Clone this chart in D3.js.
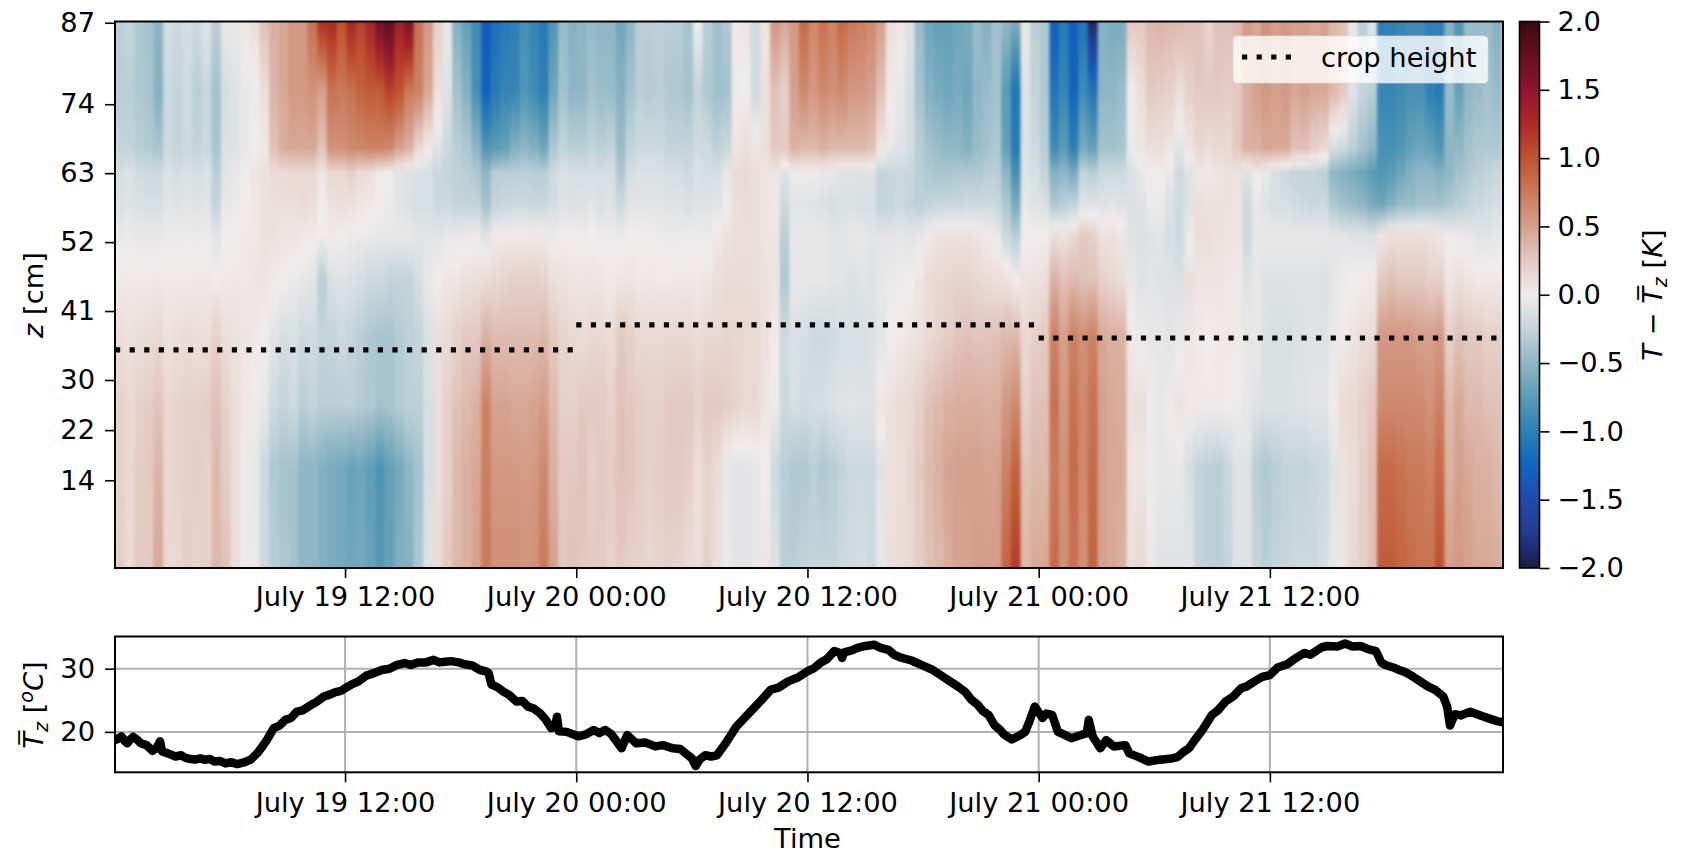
<!DOCTYPE html>
<html><head><meta charset="utf-8">
<script src="https://cdn.jsdelivr.net/npm/d3@7"></script>
<style>
html,body{margin:0;padding:0;background:#fff}
svg{display:block}
text{font-family:"DejaVu Sans",sans-serif;fill:#000}
</style></head><body><svg id="c" width="1688" height="854"></svg>
<script>
// --- heatmap data: one row every 0.5 h; entries follow zLevels, values in K
const zLevels=[87,76,67,63,58,53,46,37,26,16,0];
const columnHours=0.5;
const heatDay1=[
[-.3,-.3,-.25,-.15,-.12,-.05,.03,.1,.2,.2,.22],
[-.25,-.3,-.25,-.12,-.1,-.03,.02,.08,.15,.15,.12],
[-.35,-.35,-.3,-.18,-.12,-.05,.02,.1,.2,.22,.25],
[-.4,-.38,-.33,-.2,-.15,-.05,.02,.12,.22,.25,.25],
[-.52,-.55,-.38,-.2,-.15,-.05,.03,.15,.28,.38,.45],
[-.15,-.2,-.2,-.12,-.08,-.03,.02,.08,.15,.15,.15],
[-.2,-.25,-.25,-.15,-.1,-.03,.02,.1,.18,.18,.15],
[-.15,-.2,-.2,-.12,-.08,-.02,.02,.12,.2,.2,.22],
[-.2,-.3,-.25,-.15,-.1,-.03,.03,.1,.2,.22,.18],
[-.1,-.22,-.2,-.12,-.08,-.02,.03,.1,.22,.2,.2],
[-.3,-.4,-.38,-.3,-.25,-.08,0,.2,.3,.35,.35],
[-.05,-.15,-.12,-.08,-.05,0,.02,.1,.2,.22,.3],
[-.05,-.1,-.1,-.05,-.03,0,.03,.08,.1,.1,.1],
[.05,-.05,-.05,0,0,.02,.03,.05,.03,.02,.02],
[.1,-.02,0,.05,.03,.03,.05,.03,-.02,-.05,-.03],
[.3,.1,.03,.08,.08,.08,.05,0,-.05,-.2,-.2],
[.4,.38,.3,.12,.1,.08,.02,-.08,-.2,-.35,-.3],
[.45,.45,.42,.13,.1,.05,0,-.15,-.25,-.4,-.35],
[.55,.55,.45,.15,.1,.05,-.03,-.12,-.2,-.4,-.4],
[.55,.55,.45,.15,.12,.03,-.05,-.2,-.3,-.5,-.5],
[.8,.6,.45,.15,.1,.02,-.08,-.18,-.25,-.5,-.5],
[1.2,.5,.3,.05,0,0,-.3,-.25,-.3,-.55,-.55],
[1.25,.8,.6,.15,.08,.02,-.12,-.25,-.3,-.6,-.6],
[1,.75,.6,.15,.1,0,-.1,-.2,-.3,-.62,-.62],
[1.3,.8,.65,.2,.08,-.02,-.12,-.25,-.28,-.68,-.65],
[1.1,.9,.65,.12,.05,-.03,-.15,-.3,-.32,-.65,-.62],
[1.3,.95,.7,.1,.03,-.03,-.2,-.35,-.35,-.72,-.68],
[1.65,.95,.7,.02,0,-.05,-.2,-.38,-.4,-.82,-.78],
[1.8,1.1,.65,0,-.03,-.05,-.25,-.38,-.38,-.7,-.7],
[1.35,1,.5,-.08,-.08,-.05,-.25,-.32,-.32,-.62,-.58],
[1.6,.75,.4,-.1,-.12,-.05,-.25,-.28,-.28,-.5,-.55],
[.8,.7,.15,-.12,-.15,-.08,-.15,-.25,-.28,-.4,-.35],
[.55,.45,.02,-.15,-.15,-.08,-.05,-.12,-.15,-.15,-.1],
[.2,.1,-.1,-.22,-.2,-.08,0,.1,.1,.1,.12],
[-.05,-.1,-.2,-.25,-.2,-.05,.05,.12,.2,.2,.25],
[-.55,-.4,-.3,-.28,-.25,-.05,.05,.2,.3,.35,.35],
[-.7,-.55,-.35,-.3,-.25,-.03,.08,.25,.35,.4,.4],
[-.9,-.85,-.5,-.35,-.25,-.02,.1,.25,.4,.45,.5],
[-1.35,-1.25,-.8,-.5,-.4,-.1,.12,.4,.7,.72,.75],
[-1.15,-1.05,-.75,-.3,-.25,.02,.15,.33,.48,.55,.6],
[-1.05,-.95,-.7,-.3,-.22,.02,.18,.33,.48,.55,.6],
[-1,-.95,-.55,-.3,-.2,.02,.2,.33,.45,.55,.6],
[-.85,-.8,-.5,-.28,-.2,.02,.2,.33,.45,.53,.58],
[-.95,-.9,-.55,-.3,-.22,.03,.2,.33,.48,.55,.6],
[-1.05,-1,-.65,-.3,-.22,.03,.18,.36,.52,.65,.75],
[-.8,-.65,-.35,-.2,-.15,-.03,.1,.25,.35,.4,.5],
[-.45,-.4,-.25,-.12,-.1,0,.08,.18,.2,.25,.25],
[-.55,-.5,-.3,-.15,-.12,0,.05,.15,.2,.25,.3]];
const heatDay2=[
[-.5,-.5,-.3,-.15,-.1,-.02,.05,.12,.25,.3,.25],
[-.45,-.4,-.25,-.15,-.08,0,.05,.15,.25,.2,.25],
[-.5,-.45,-.3,-.15,-.12,-.02,.04,.15,.25,.25,.25],
[-.5,-.45,-.25,-.15,-.1,-.02,.02,.12,.2,.22,.2],
[-.65,-.55,-.45,-.35,-.2,-.03,.05,.25,.3,.3,.25],
[-.5,-.4,-.25,-.15,-.08,0,.05,.2,.25,.28,.2],
[-.3,-.3,-.2,-.12,-.08,0,.02,.15,.22,.22,.2],
[-.3,-.32,-.2,-.12,-.08,0,.03,.15,.2,.2,.15],
[-.28,-.3,-.2,-.12,-.08,-.02,.02,.15,.2,.22,.18],
[-.3,-.35,-.25,-.15,-.1,-.03,.02,.15,.25,.25,.2],
[-.3,-.35,-.25,-.15,-.1,-.03,.03,.15,.25,.25,.18],
[-.38,-.4,-.25,-.2,-.12,-.02,.03,.15,.25,.22,.12],
[-.02,-.25,-.18,-.12,-.1,-.02,.02,.12,.2,.1,.1],
[-.3,-.35,-.2,-.15,-.1,-.03,.05,.15,.25,.2,.2],
[-.42,-.42,-.28,-.15,-.08,.03,.1,.15,.25,.12,.1],
[-.35,-.4,-.22,-.05,-.02,.08,.12,.17,.22,-.05,-.03],
[.03,.02,.05,.12,.1,.1,.12,.16,.18,-.08,-.08],
[.05,0,.1,.13,.12,.1,.12,.15,.15,-.08,-.08],
[-.2,-.2,.05,.1,.1,.1,.1,.15,.15,-.05,-.05],
[.05,.08,.1,.05,.05,.05,.08,.08,.05,0,.05],
[.55,.3,.25,.05,.03,.05,.05,.02,-.02,-.2,-.1],
[.45,.2,.25,-.1,-.2,-.3,-.35,-.2,-.2,-.3,-.3],
[.55,.5,.4,-.02,-.08,-.05,-.05,-.12,-.15,-.35,-.3],
[.85,.65,.35,-.02,-.08,-.05,-.05,-.15,-.18,-.35,-.25],
[.65,.55,.35,-.02,-.1,-.05,-.05,-.2,-.15,-.3,-.25],
[.8,.65,.4,-.05,-.12,-.05,-.05,-.2,-.15,-.35,-.25],
[.7,.6,.35,-.05,-.15,-.08,-.08,-.18,-.12,-.3,-.25],
[.85,.65,.35,-.1,-.12,-.08,-.08,-.15,-.1,-.25,-.2],
[.75,.55,.35,-.1,-.12,-.05,-.12,-.15,-.08,-.2,-.18],
[.7,.55,.35,-.1,-.15,-.05,-.08,-.15,-.1,-.2,-.15],
[.65,.5,.3,-.1,-.15,-.08,-.1,-.12,-.1,-.2,-.2],
[.5,.3,.05,-.25,-.25,-.08,-.05,-.08,.05,-.1,-.05],
[.1,.02,-.05,-.22,-.25,-.08,-.03,0,.08,.08,.1],
[.05,-.05,-.1,-.2,-.2,-.06,-.02,.02,.12,.1,.12],
[-.1,-.15,-.15,-.22,-.25,-.08,0,.05,.15,.15,.15],
[-.45,-.4,-.3,-.3,-.28,-.06,.05,.08,.2,.25,.22],
[-.65,-.55,-.4,-.35,-.25,.03,.12,.14,.3,.35,.3],
[-.7,-.6,-.45,-.38,-.22,.07,.15,.18,.35,.4,.35],
[-.7,-.65,-.5,-.38,-.22,.08,.17,.22,.4,.48,.43],
[-.65,-.6,-.5,-.35,-.22,.08,.18,.28,.42,.5,.48],
[-.6,-.65,-.55,-.35,-.2,.08,.18,.3,.42,.5,.48],
[-.45,-.5,-.45,-.35,-.2,.06,.15,.28,.42,.5,.52],
[-.55,-.45,-.4,-.3,-.2,.02,.12,.28,.4,.48,.52],
[-.4,-.4,-.35,-.3,-.22,-.03,.1,.3,.42,.48,.52],
[-.5,-.75,-.7,-.5,-.35,-.2,.08,.35,.55,.7,.9],
[-.6,-1.1,-1.05,-.85,-.6,-.3,0,.35,.65,.9,1.15],
[-.05,-.1,-.1,-.1,-.05,0,.05,.15,.2,.3,.35],
[-.3,-.25,-.2,-.15,-.1,0,.08,.2,.3,.35,.45]];
const heatDay3=[
[-.35,-.35,-.3,-.25,-.12,0,.1,.25,.3,.35,.45],
[-1.3,-1.1,-.9,-.55,-.35,.1,.4,.7,.8,.75,.85],
[-1.05,-.95,-.75,-.5,-.3,.08,.3,.5,.55,.6,.6],
[-1.3,-1.25,-1,-.6,-.25,.15,.35,.7,.8,.85,.8],
[-1.1,-.9,-.6,-.25,-.1,.25,.3,.6,.65,.65,.6],
[-1.9,-1.1,-.7,-.3,-.1,.2,.3,.7,.8,.85,.9],
[-.55,-.5,-.4,-.2,-.1,.08,.2,.45,.5,.5,.5],
[-.6,-.5,-.4,-.2,-.08,.08,.15,.4,.45,.45,.45],
[-.6,-.45,-.38,-.2,-.1,.05,.1,.4,.42,.45,.4],
[.25,0,-.03,-.12,-.12,-.1,-.05,.03,.08,.05,.1],
[.25,.1,.05,-.05,-.1,-.12,-.1,-.03,.1,.05,.15],
[.35,.25,.1,0,-.03,-.1,-.08,-.05,-.02,-.02,-.03],
[.38,.22,.1,0,-.03,-.08,-.1,-.05,-.05,-.05,-.1],
[.35,.2,.05,-.05,-.12,-.15,-.1,-.08,-.02,-.05,-.1],
[.35,.1,-.08,-.2,-.2,-.2,-.12,-.05,.08,-.05,-.1],
[.3,.2,.05,-.1,-.1,-.03,.1,.05,.02,-.15,-.08],
[.3,.25,.15,.03,.1,.1,.05,.02,.02,-.25,-.25],
[.18,.25,.12,.03,.08,.1,.05,0,.02,-.28,-.28],
[.3,.25,.15,.05,.08,.08,.05,.02,.02,-.3,-.3],
[.3,.22,.15,.08,.08,.06,.03,.03,0,-.22,-.25],
[.35,.25,.25,.08,.05,.05,.03,.03,-.02,-.1,-.1],
[.55,.4,.4,-.1,-.2,-.2,-.1,-.05,-.05,-.1,-.1],
[.45,.5,.4,.02,-.05,-.05,-.05,-.05,-.1,-.3,-.25],
[.6,.55,.45,-.05,-.1,-.05,-.1,-.12,-.12,-.35,-.3],
[.5,.5,.45,-.15,-.15,-.05,-.1,-.15,-.12,-.3,-.25],
[.55,.55,.45,-.2,-.15,-.05,-.1,-.15,-.12,-.25,-.25],
[.5,.45,.3,-.25,-.18,-.05,-.1,-.12,-.1,-.25,-.2],
[.5,.5,.3,-.25,-.2,-.05,-.1,-.1,-.1,-.25,-.2],
[.45,.45,.2,-.25,-.22,-.05,-.1,-.1,-.08,-.22,-.2],
[.5,.45,.15,-.3,-.2,-.05,-.12,-.1,-.08,-.2,-.15],
[.35,.35,-.15,-.5,-.35,-.08,-.05,-.05,0,-.1,-.05],
[.3,.25,-.2,-.55,-.42,-.08,-.02,.02,.12,.08,.05],
[-.05,-.1,-.3,-.6,-.45,-.1,0,.05,.15,.12,.15],
[-.3,-.25,-.4,-.65,-.5,-.1,0,.1,.2,.2,.2],
[-.1,-.3,-.5,-.75,-.6,-.12,.02,.12,.25,.3,.3],
[-1,-.95,-.85,-.8,-.65,.05,.25,.55,.65,.85,.95],
[-1,-.95,-.85,-.75,-.55,.1,.3,.55,.65,.85,.95],
[-.95,-.9,-.8,-.65,-.45,.1,.25,.55,.65,.8,.9],
[-.9,-.85,-.7,-.55,-.45,.1,.25,.55,.65,.75,.85],
[-.9,-.85,-.65,-.5,-.4,.1,.25,.5,.65,.75,.8],
[-1,-1,-.7,-.5,-.4,.08,.2,.5,.6,.7,.8],
[-1,-1.05,-.8,-.55,-.4,.05,.2,.55,.7,.85,1],
[-.55,-.45,-.5,-.5,-.35,-.02,.05,.2,.35,.4,.5],
[-.8,-.7,-.5,-.4,-.3,-.03,.1,.3,.45,.5,.55],
[-.45,-.5,-.4,-.35,-.25,-.05,.05,.25,.35,.45,.5],
[-.45,-.45,-.35,-.3,-.2,-.08,.02,.25,.35,.4,.45],
[-.45,-.4,-.35,-.25,-.18,-.08,.03,.2,.3,.4,.45],
[-.55,-.45,-.35,-.22,-.15,-.06,.03,.2,.3,.35,.42]];
// --- crop height
const cropStart=[.06,24,48];
const cropEnd=[23.9,47.8,72.1];
const cropZ=[34.8,38.8,36.7];
// --- mean temperature
const meanHours=[
0,.2,.4,.55,.7,.85,1,1.2,1.4,1.7,
2,2.2,2.4,2.5,2.8,3.2,3.5,3.7,4,4.2,
4.5,4.7,5,5.2,5.5,5.8,6.1,6.4,6.8,7.1,
7.5,7.9,8.3,8.6,8.9,9.2,9.5,9.8,10.2,10.5,
10.9,11.2,11.5,11.8,12,12.4,12.7,13.1,13.5,13.9,
14.3,14.7,15.1,15.4,15.8,16.2,16.6,16.9,17.2,17.5,
17.9,18.2,18.6,19,19.3,19.45,19.6,19.9,20.2,20.5,
20.9,21.2,21.5,21.8,22.1,22.4,22.7,22.9,23,23.1,
23.5,24.1,24.5,24.9,25.2,25.5,25.8,26.05,26.35,26.65,
27.1,27.6,28.1,28.5,29,29.4,29.8,30,30.2,30.4,
30.7,31,31.3,31.8,32.3,32.7,33.2,33.6,34.1,34.5,
35,35.5,36,36.3,36.7,37,37.4,37.7,37.8,37.9,
38.3,38.6,39,39.45,39.8,40.2,40.5,40.9,41.4,42,
42.5,43,43.4,43.8,44.2,44.5,44.8,45.1,45.4,45.7,
46,46.2,46.6,47,47.3,47.5,47.8,48.2,48.4,48.7,
49,49.3,49.7,50.2,50.5,50.6,50.8,51.2,51.5,51.9,
52.5,52.7,53.2,53.7,54.3,54.9,55.2,55.5,55.8,56.1,
56.5,57,57.3,57.7,58.1,58.5,58.8,59.2,59.6,60,
60.4,60.9,61.3,61.8,62.1,62.4,62.7,63,63.5,63.9,
64.3,64.7,65.1,65.5,65.8,66,66.4,66.7,67,67.4,
67.8,68.2,68.6,69,69.2,69.35,69.6,69.9,70.4,71,
71.4,71.8,72.1];
const meanTemp=[
18.6,18.9,19.3,18.6,18.2,18.8,19.2,18.8,18.2,17.9,
17,17.4,18.5,16.9,16.6,16.1,16.3,15.9,15.7,15.6,
15.8,15.6,15.7,15.3,15.4,15,15.2,14.9,15.2,15.6,
16.8,18.5,20.6,21,21.9,22.2,23.2,23.4,24.2,24.7,
25.6,25.9,26.3,26.5,26.9,27.6,28,28.9,29.3,29.8,
30,30.6,30.9,30.6,31,31,31.4,31,31.1,31.2,
31,30.7,30.5,29.8,29.6,29.3,27.5,27.1,26.4,25.9,
24.8,24.9,24,23.7,23,22,20.6,20.8,22.4,20.1,
20,19.3,19.6,20.3,19.8,20.3,19.7,18.7,17.4,19.5,
18.2,18.3,17.7,17.9,17.4,17.3,16.3,15.8,14.6,15.6,
16.3,16.1,16.3,18.4,20.8,22.1,23.7,25,26.7,27,
28,28.6,29.6,30,31,31.5,32.8,32.5,31.7,32.6,
32.9,33.3,33.6,33.8,33.3,33,32.2,31.7,31.3,30.5,
29.8,28.8,28,27.2,26.3,25.1,24.4,23.3,22.7,21.1,
20.3,19.6,18.8,19.4,20,21.5,24,22.2,22.9,22.7,
20,19.6,19,19.5,19.8,21.9,19.3,17.4,18.7,17.7,
17.9,16.6,16,15.3,15.6,15.8,16,16.8,17.4,18.7,
20.3,22.7,23.4,24.8,25.6,26.9,27.2,28,28.7,29,
30.2,30.7,31.6,32.5,32.2,32.8,33.4,33.6,33.5,34,
33.5,33.6,33.1,32.8,30.9,30.6,30.2,29.8,29.5,28.8,
28,27.2,26.6,25.6,24,21,22.8,22.6,23.2,22.5,
22.1,21.7,21.5];
// --- ticks and labels
const xTickHours=[12,24,36,48,60];
const xTickLabels=["July 19 12:00","July 20 00:00","July 20 12:00","July 21 00:00","July 21 12:00"];
const zTicks=[14,22,30,41,52,63,74,87];
const tTicks=[20,30];
const cbarTicks=[-2,-1.5,-1,-.5,0,.5,1,1.5,2];
const cmapValues=[-2,-1.75,-1.5,-1.25,-1,-.75,-.5,-.25,0,.25,.5,.75,1,1.25,1.5,1.75,2];
const cmapColors=["#181c43","#243a8e","#2149ac","#1164c0","#2e80b5","#5a9bb5","#8fb6c5","#c3d4da","#f1ecec","#e3c9c1","#d5a08d","#ca7a5a","#bf5430","#ad2a27","#8f1430","#651020","#3c0912"];

const heat=[...heatDay1,...heatDay2,...heatDay3];
const svg=d3.select("#c");
const L=115,R=1503,T1=21.5,B1=568,T2=636.5,B2=772.3,FS=27.3,SUB=19;
const x=d3.scaleLinear().domain([.06,72.1]).range([L,R]);
const y=d3.scaleLinear().domain([0,87.2]).range([B1,T1]);
const yT=d3.scaleLinear().domain([13.6,35.1]).range([B2,T2]);
const col=d3.scaleLinear().domain(cmapValues).range(cmapColors).clamp(true);
const defs=svg.append("defs");
const f=defs.append("filter").attr("id","soft").attr("x",0).attr("y",0).attr("width",1).attr("height",1)
  .attr("color-interpolation-filters","sRGB");
f.append("feGaussianBlur").attr("stdDeviation","1.5 0").attr("edgeMode","duplicate");
defs.append("clipPath").attr("id","clip1").append("rect").attr("x",L).attr("y",T1).attr("width",R-L).attr("height",B1-T1);
defs.append("clipPath").attr("id","clip2").append("rect").attr("x",L).attr("y",T2).attr("width",R-L).attr("height",B2-T2);

// gradient per time column: vertical interpolation between the read levels
heat.forEach((row,i)=>{
  const g=defs.append("linearGradient").attr("id","h"+i).attr("gradientUnits","userSpaceOnUse")
    .attr("x1",0).attr("x2",0).attr("y1",y(zLevels[0])).attr("y2",y(0));
  const interp=d3.scaleLinear().domain(zLevels).range(row);
  const zs=[];
  for(let k=0;k<zLevels.length-1;k++){for(let s=0;s<3;s++){zs.push(zLevels[k]+(zLevels[k+1]-zLevels[k])*s/3);}}
  zs.push(0);
  zs.forEach(z=>g.append("stop").attr("offset",(y(z)-y(zLevels[0]))/(y(0)-y(zLevels[0]))).attr("stop-color",col(interp(z))));
});
const hg=svg.append("g").attr("clip-path","url(#clip1)").append("g").attr("filter","url(#soft)");
hg.selectAll("rect").data(heat).join("rect")
  .attr("x",(d,i)=>x(i*columnHours+.06)).attr("width",(d,i)=>x((i+1)*columnHours)-x(i*columnHours)+.6)
  .attr("y",y(87.2)).attr("height",y(0)-y(87.2)).attr("fill",(d,i)=>`url(#h${i})`);

// crop height
const cropG=svg.append("g");
cropStart.forEach((s,i)=>{
  cropG.append("line").attr("x1",x(s)).attr("x2",x(cropEnd[i])).attr("y1",y(cropZ[i])).attr("y2",y(cropZ[i]))
    .attr("stroke","#000").attr("stroke-width",5.2).attr("stroke-dasharray","5.2 9.4");
});

// legend
const lg=svg.append("g");
lg.append("rect").attr("x",1233).attr("y",36).attr("width",255).attr("height",47).attr("rx",4).attr("fill","#fff").attr("fill-opacity",.8).attr("stroke","#ddd").attr("stroke-opacity",.6);
lg.append("line").attr("x1",1242).attr("x2",1293).attr("y1",57).attr("y2",57).attr("stroke","#000").attr("stroke-width",5.2).attr("stroke-dasharray","5.2 9.4");
lg.append("text").attr("x",1321).attr("y",67).attr("font-size",FS).text("crop height");

function styleAxis(g){
  g.select(".domain").remove();
  g.selectAll("line").attr("stroke","#000").attr("stroke-width",1.6);
  g.selectAll("text").attr("font-size",FS).attr("font-family",'"DejaVu Sans"');
}
function frame(t,b){svg.append("rect").attr("x",L).attr("y",t).attr("width",R-L).attr("height",b-t).attr("fill","none").attr("stroke","#000").attr("stroke-width",2);}
const xAxis=p=>d3.axisBottom(x).tickValues(xTickHours).tickFormat((d,i)=>xTickLabels[i]).tickSize(10).tickPadding(p);
svg.append("g").attr("transform",`translate(0,${B1})`).call(xAxis(9)).call(styleAxis);
svg.append("g").attr("transform",`translate(${L},0)`).call(d3.axisLeft(y).tickValues(zTicks).tickFormat(d3.format("d")).tickSize(10).tickPadding(10)).call(styleAxis);
frame(T1,B1);

// lower panel
const gridG=svg.append("g").attr("stroke","#b0b0b0").attr("stroke-width",2);
gridG.selectAll(".v").data(xTickHours).join("line").attr("x1",d=>x(d)).attr("x2",d=>x(d)).attr("y1",T2).attr("y2",B2);
gridG.selectAll(".h").data(tTicks).join("line").attr("x1",L).attr("x2",R).attr("y1",d=>yT(d)).attr("y2",d=>yT(d));
const line=d3.line().x((d,i)=>x(meanHours[i])).y(d=>yT(d));
svg.append("g").attr("clip-path","url(#clip2)").append("path").attr("d",line(meanTemp)).attr("fill","none").attr("stroke","#000").attr("stroke-width",8.5).attr("stroke-linejoin","round");
svg.append("g").attr("transform",`translate(0,${B2})`).call(xAxis(10)).call(styleAxis);
svg.append("g").attr("transform",`translate(${L},0)`).call(d3.axisLeft(yT).tickValues(tTicks).tickSize(10).tickPadding(10)).call(styleAxis);
frame(T2,B2);
svg.append("text").attr("x",x(36)).attr("y",847.5).attr("text-anchor","middle").attr("font-size",FS).text("Time");

// axis titles
function rotText(cx,cy){return svg.append("text").attr("transform",`translate(${cx},${cy}) rotate(-90)`).attr("text-anchor","middle").attr("font-size",FS);}
const zl=rotText(43,295);
zl.append("tspan").attr("font-style","italic").text("z");
zl.append("tspan").text(" [cm]");
const tl=rotText(43,705);
tl.append("tspan").attr("font-style","italic").text("T\u0305");
tl.append("tspan").attr("font-style","italic").attr("font-size",SUB).attr("dy",5).text("z");
tl.append("tspan").attr("dy",-5).text(" [");
tl.append("tspan").attr("font-size",SUB).attr("font-style","italic").attr("dy",-10).text("o");
tl.append("tspan").attr("font-style","italic").attr("dy",10).text("C");
tl.append("tspan").text("]");

// colourbar
const cy=d3.scaleLinear().domain([-2,2]).range([B1,T1]);
const cg=defs.append("linearGradient").attr("id","cb").attr("x1",0).attr("x2",0).attr("y1",1).attr("y2",0);
cmapValues.forEach(v=>cg.append("stop").attr("offset",(v+2)/4).attr("stop-color",col(v)));
svg.append("rect").attr("x",1519.5).attr("y",T1).attr("width",20).attr("height",B1-T1).attr("fill","url(#cb)").attr("stroke","#000").attr("stroke-width",1.6);
svg.append("g").attr("transform","translate(1539.5,0)").call(d3.axisRight(cy).tickValues(cbarTicks).tickFormat(d3.format(".1f")).tickSize(10).tickPadding(8)).call(styleAxis);
const cl=rotText(1662,295);
cl.append("tspan").attr("font-style","italic").text("T");
cl.append("tspan").text(" \u2212 ");
cl.append("tspan").attr("font-style","italic").text("T\u0305");
cl.append("tspan").attr("font-style","italic").attr("font-size",SUB).attr("dy",5).text("z");
cl.append("tspan").attr("dy",-5).text(" [");
cl.append("tspan").attr("font-style","italic").text("K");
cl.append("tspan").text("]");
</script></body></html>
